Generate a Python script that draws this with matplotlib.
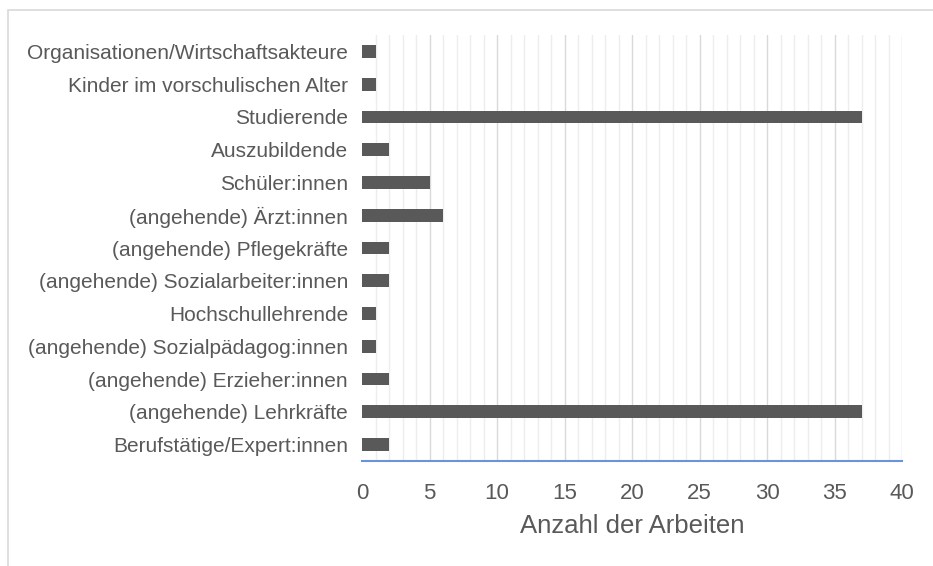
import matplotlib.pyplot as plt
from matplotlib.patches import Rectangle

categories = [
    "Berufstätige/Expert:innen",
    "(angehende) Lehrkräfte",
    "(angehende) Erzieher:innen",
    "(angehende) Sozialpädagog:innen",
    "Hochschullehrende",
    "(angehende) Sozialarbeiter:innen",
    "(angehende) Pflegekräfte",
    "(angehende) Ärzt:innen",
    "Schüler:innen",
    "Auszubildende",
    "Studierende",
    "Kinder im vorschulischen Alter",
    "Organisationen/Wirtschaftsakteure",
]
values = [2, 37, 2, 1, 1, 2, 2, 6, 5, 2, 37, 1, 1]
xticks = [0, 5, 10, 15, 20, 25, 30, 35, 40]

plt.rcParams['font.family'] = ['Liberation Sans', 'DejaVu Sans']
txt = '#595959'

fig = plt.figure(figsize=(9.33, 5.66), dpi=100)
ax = fig.add_axes([362/933, 1-461/566, 540/933, 426/566])

# outer frame of the chart area
fig.patches.append(Rectangle((8/933, -0.1), 1.2, 1-10/566+0.1, transform=fig.transFigure,
                             fill=False, edgecolor='#D9D9D9', linewidth=1.2))

ax.set_axisbelow(True)
for v in range(1, 41):
    ax.axvline(v, color='#D9D9D9' if v % 5 == 0 else '#EDEDED', linewidth=1.0, zorder=0)

y = range(len(categories))
ax.barh(y, values, height=0.39, color='#595959', zorder=3)

ax.set_xlim(0, 40)
ax.set_ylim(-0.5, len(categories) - 0.5)
ax.set_xticks(xticks)
ax.set_yticks(list(y))
ax.set_yticklabels(categories)
ax.tick_params(axis='y', length=0, pad=10, labelsize=15, labelcolor=txt)
ax.tick_params(axis='x', length=0, pad=16, labelsize=16, labelcolor=txt)

for s in ['top', 'right', 'left']:
    ax.spines[s].set_visible(False)
ax.spines['bottom'].set_color('#6A93D8')
ax.spines['bottom'].set_linewidth(1.5)
ax.spines['bottom'].set_zorder(4)

ax.set_xlabel('Anzahl der Arbeiten', fontsize=18.5, color=txt, labelpad=7)

fig.savefig('out.png', dpi=100)
